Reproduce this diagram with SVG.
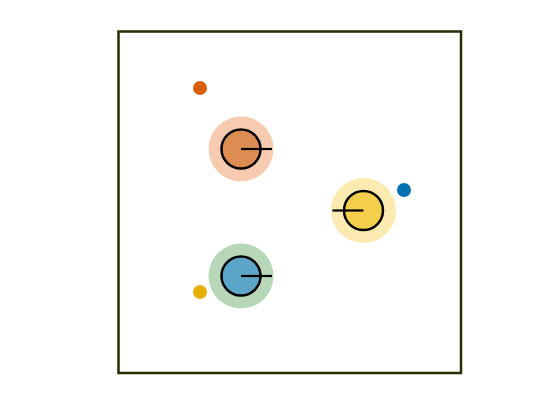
<svg xmlns="http://www.w3.org/2000/svg" width="560" height="420" viewBox="0 0 560 420">
<style>
.body{stroke:#000;stroke-width:2.5}
.head{stroke:#000;stroke-width:2.2;fill:none}
</style>
<rect width="560" height="420" fill="#ffffff"/>
<rect id="frame" x="118.5" y="31.5" width="342.5" height="341.5" fill="none" stroke="#2b2b00" stroke-width="2.5"/>
<g id="goal-orange"><circle cx="200" cy="88" r="7" fill="#d95f0e"/></g>
<g id="goal-blue"><circle cx="404" cy="190" r="7" fill="#0072b2"/></g>
<g id="goal-yellow"><circle cx="200" cy="292" r="7" fill="#e6b000"/></g>
<g id="robot-orange">
<circle cx="241" cy="149" r="32.5" fill="#f6cbb0"/>
<circle class="body" cx="241" cy="149" r="19.5" fill="#de8d52"/>
<line class="head" x1="241" y1="149" x2="272" y2="149"/>
</g>
<g id="robot-yellow">
<circle cx="363.5" cy="210.5" r="32.5" fill="#fbebb0"/>
<circle class="body" cx="363.5" cy="210.5" r="19.5" fill="#f3cf4c"/>
<line class="head" x1="363.5" y1="210.5" x2="332.5" y2="210.5"/>
</g>
<g id="robot-blue">
<circle cx="241" cy="276" r="32.5" fill="#b6d8b8"/>
<circle class="body" cx="241" cy="276" r="19.5" fill="#5aa5c8"/>
<line class="head" x1="241" y1="276" x2="272" y2="276"/>
</g>
<g id="connectors"/>
</svg>
